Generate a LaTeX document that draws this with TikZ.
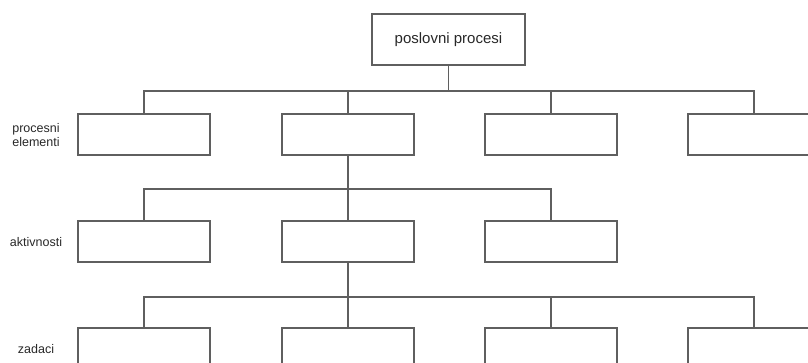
\documentclass[tikz,border=0pt]{standalone}
\usepackage{fontspec}
\setmainfont{Liberation Sans}
\definecolor{linegray}{RGB}{95,95,95}
\definecolor{textgray}{RGB}{40,40,40}
\begin{document}
\begin{tikzpicture}[x=1pt,y=-1pt,
  box/.style={draw=linegray,line width=1.1pt,minimum width=132pt,minimum height=41pt,inner sep=0pt},
  topbox/.style={draw=linegray,line width=1.1pt,minimum width=153pt,minimum height=51pt,inner sep=0pt,font=\fontsize{15}{17}\selectfont,text=textgray},
  lvl/.style={font=\fontsize{12.5}{13.5}\selectfont,text=textgray,align=center,inner sep=0pt},
  conn/.style={draw=linegray,line width=1.1pt}]
\useasboundingbox (0,0) rectangle (808,363);
\clip (0,0) rectangle (808,363);
\node[topbox] (top) at (448.5,39.5) {poslovni procesi};
\node[box] (e1) at (144,134.5) {};
\node[box] (e2) at (348,134.5) {};
\node[box] (e3) at (551,134.5) {};
\node[box] (e4) at (754,134.5) {};
\node[box] (a1) at (144,241.5) {};
\node[box] (a2) at (348,241.5) {};
\node[box] (a3) at (551,241.5) {};
\node[box] (z1) at (144,348.5) {};
\node[box] (z2) at (348,348.5) {};
\node[box] (z3) at (551,348.5) {};
\node[box] (z4) at (754,348.5) {};
\node[lvl] (l1) at (36,135) {procesni\\elementi};
\node[lvl] (l2) at (36,242) {aktivnosti};
\node[lvl] (l3) at (36,349) {zadaci};
\coordinate (b1) at (0,91);
\coordinate (b2) at (0,189);
\coordinate (b3) at (0,297);
\foreach \c in {e1,e2,e3,e4}
  \draw[conn] (top.south) -- (top.south |- b1) -| (\c.north);
\foreach \c in {a1,a2,a3}
  \draw[conn] (e2.south) -- (e2.south |- b2) -| (\c.north);
\foreach \c in {z1,z2,z3,z4}
  \draw[conn] (a2.south) -- (a2.south |- b3) -| (\c.north);
\end{tikzpicture}
\end{document}
